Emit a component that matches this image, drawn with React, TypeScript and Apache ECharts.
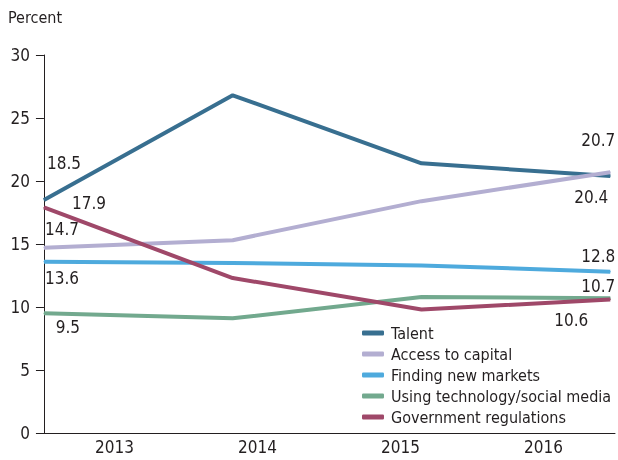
import React, { useEffect, useRef } from "react";
import * as echarts from "echarts";

const years = ["2013", "2014", "2015", "2016"];
const seriesNames = [
  "Talent",
  "Access to capital",
  "Finding new markets",
  "Using technology/social media",
  "Government regulations",
];
const talent = [18.5, 26.8, 21.4, 20.4];
const accessToCapital = [14.7, 15.3, 18.4, 20.7];
const findingNewMarkets = [13.6, 13.5, 13.3, 12.8];
const usingTechnology = [9.5, 9.1, 10.8, 10.7];
const governmentRegulations = [17.9, 12.3, 9.8, 10.6];
const yTicks = [0, 5, 10, 15, 20, 25, 30];

const colors = ["#386f90", "#b3aed1", "#4eaadd", "#72a98e", "#9f4869"];
const FONT = "'DejaVu Sans Condensed', 'Liberation Sans Narrow', sans-serif";
const TEXT = "#231f20";

// label offsets (first point, last point) for each series
const labelOffsets: [number, number][][] = [
  [[20, -37], [-19, 21]],
  [[18, -19], [-12, -32]],
  [[18, 16], [-12, -16]],
  [[24, 14], [-12, -12]],
  [[45, -4], [-39, 21]],
];

export default function App() {
  const ref = useRef<HTMLDivElement>(null);
  useEffect(() => {
    if (!ref.current) return;
    const chart = echarts.init(ref.current, undefined, { renderer: "svg" });
    const all = [talent, accessToCapital, findingNewMarkets, usingTechnology, governmentRegulations];
    const series = all.map((vals, si) => ({
      name: seriesNames[si],
      type: "line",
      xAxisIndex: 1,
      symbol: "circle",
      symbolSize: 1,
      showSymbol: true,
      lineStyle: { width: 4, color: colors[si] },
      itemStyle: { color: colors[si] },
      emphasis: { disabled: true },
      data: vals.map((v, i) => {
        const item: any = { value: [i, v] };
        if (i === 0 || i === vals.length - 1) {
          const off = labelOffsets[si][i === 0 ? 0 : 1];
          item.label = {
            show: true,
            position: "inside",
            offset: off,
            formatter: v.toFixed(1),
            fontSize: 17,
            fontFamily: FONT,
            color: TEXT,
          };
        }
        return item;
      }),
    }));
    chart.setOption({
      animation: false,
      color: colors,
      grid: { left: 43, right: 3, top: 55, bottom: 27, containLabel: false },
      graphic: [
        {
          type: "text",
          left: 8,
          top: 9,
          style: { text: "Percent", fontSize: 16, fontFamily: FONT, fill: TEXT },
        },
      ],
      legend: {
        orient: "vertical",
        left: 357,
        top: 320,
        itemWidth: 22,
        itemHeight: 5,
        itemGap: 5,
        icon: "roundRect",
        textStyle: { fontSize: 16, fontFamily: FONT, color: TEXT, padding: [0, 0, 0, 2] },
        data: seriesNames,
      },
      xAxis: [
        {
          type: "category",
          data: years,
          boundaryGap: true,
          axisLine: { lineStyle: { color: TEXT, width: 1 } },
          axisTick: { length: 8, lineStyle: { color: TEXT } },
          axisLabel: { fontSize: 17, fontFamily: FONT, color: TEXT, margin: 5 },
          splitLine: { show: false },
        },
        {
          type: "value",
          show: false,
          min: -0.005,
          max: 3.025,
          splitLine: { show: false },
        },
      ],
      yAxis: {
        type: "value",
        min: yTicks[0],
        max: yTicks[yTicks.length - 1],
        interval: 5,
        axisLine: { show: true, lineStyle: { color: TEXT, width: 1 } },
        axisTick: { show: true, length: 8, lineStyle: { color: TEXT } },
        axisLabel: { fontSize: 17, fontFamily: FONT, color: TEXT, margin: 13 },
        splitLine: { show: false },
      },
      series,
    });
    return () => chart.dispose();
  }, []);
  return (
    <div
      ref={ref}
      style={{ position: "fixed", left: 0, top: 0, width: 618, height: 460 }}
    />
  );
}
